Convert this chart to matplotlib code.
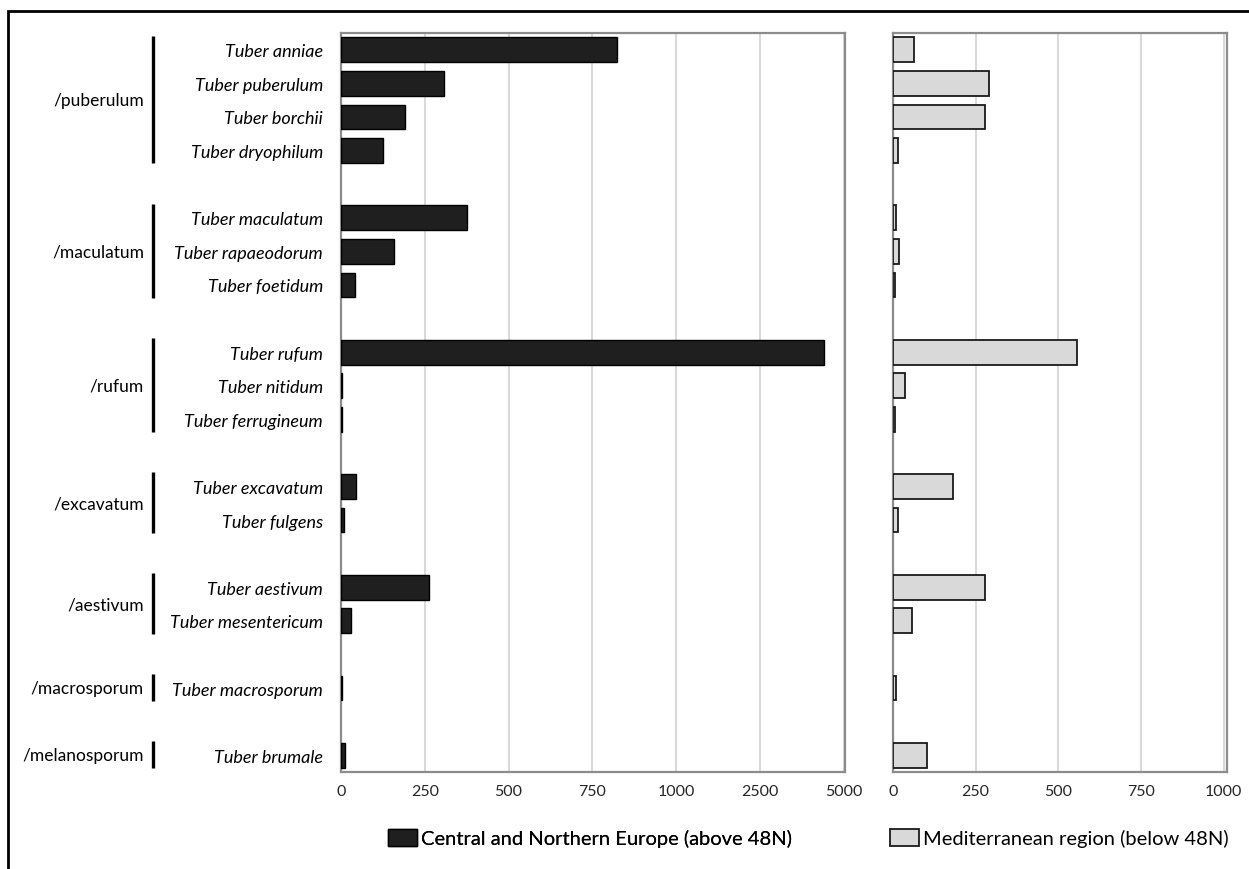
import numpy as np
import matplotlib
matplotlib.use("Agg")
import matplotlib.pyplot as plt
from matplotlib.patches import Rectangle
from matplotlib.transforms import blended_transform_factory

plt.rcParams['font.family'] = ['Lato', 'DejaVu Sans']

# --- data ---
groups = ["/puberulum", "/maculatum", "/rufum", "/excavatum",
          "/aestivum", "/macrosporum", "/melanosporum"]
species = [
    ["Tuber anniae", "Tuber puberulum", "Tuber borchii", "Tuber dryophilum"],
    ["Tuber maculatum", "Tuber rapaeodorum", "Tuber foetidum"],
    ["Tuber rufum", "Tuber nitidum", "Tuber ferrugineum"],
    ["Tuber excavatum", "Tuber fulgens"],
    ["Tuber aestivum", "Tuber mesentericum"],
    ["Tuber macrosporum"],
    ["Tuber brumale"],
]
north = [823, 306, 191, 124,
         377, 158, 43,
         4400, 3, 3,
         45, 10,
         264, 31,
         4,
         12]
south = [64, 291, 277, 14,
         10, 17, 6,
         555, 35, 5,
         181, 14,
         277, 56,
         9,
         104]
north_ticks = [0, 250, 500, 750, 1000, 2500, 5000]
south_ticks = [0, 250, 500, 750, 1000]
label_north = "Central and Northern Europe (above 48N)"
label_south = "Mediterranean region (below 48N)"

# y positions: one empty slot between groups
ypos, spans = [], []
slot = 0
for sp in species:
    start = slot
    for _ in sp:
        ypos.append(slot)
        slot += 1
    spans.append((start, slot - 1))
    slot += 1
n_slots = slot - 1
names = [s for sp in species for s in sp]


# broken axis: 0-1000 linear, then 2500 and 5000 at one tick step each
def fwd(v):
    v = np.asarray(v, dtype=float)
    return np.where(v <= 1000, v,
                    np.where(v <= 2500, 1000 + (v - 1000) / 6.0,
                             1250 + (v - 2500) / 10.0))


def inv(u):
    u = np.asarray(u, dtype=float)
    return np.where(u <= 1000, u,
                    np.where(u <= 1250, 1000 + (u - 1000) * 6.0,
                             2500 + (u - 1250) * 10.0))


W, H = 1249, 870
fig = plt.figure(figsize=(W / 100, H / 100), dpi=100)
top, bot = 34, 773
ax1 = fig.add_axes([341 / W, 1 - bot / H, (845 - 341) / W, (bot - top) / H])
ax2 = fig.add_axes([893 / W, 1 - bot / H, (1227 - 893) / W, (bot - top) / H])

dark = '#1f1f1f'
light = '#d9d9d9'
b1 = ax1.barh(ypos, north, height=0.74, color=dark, edgecolor='black', linewidth=1.0, zorder=3)
b2 = ax2.barh(ypos, south, height=0.74, color=light, edgecolor='#1a1a1a', linewidth=1.3, zorder=3)

ax1.set_xscale('function', functions=(fwd, inv))
ax1.set_xlim(0, 5040)
ax1.set_xticks(north_ticks)
ax1.set_xticklabels([str(t) for t in north_ticks])
ax2.set_xlim(0, 1010)
ax2.set_xticks(south_ticks)
ax2.set_xticklabels([str(t) for t in south_ticks])

for ax in (ax1, ax2):
    ax.set_ylim(n_slots - 0.5, -0.5)
    ax.grid(axis='x', color='#d9d9d9', linewidth=1.5, zorder=0)
    ax.grid(axis='y', visible=False)
    ax.set_axisbelow(True)
    for s in ax.spines.values():
        s.set_color('#8c8c8c')
        s.set_linewidth(1.6)
    ax.tick_params(axis='x', length=0, pad=9, labelsize=11.5, labelcolor='#262626')

ax1.set_yticks(ypos)
ax1.set_yticklabels(names, fontstyle='italic', fontsize=13)
ax1.tick_params(axis='y', length=0, pad=13)
ax2.set_yticks([])

# group brackets and labels
trans = blended_transform_factory(fig.transFigure, ax1.transData)
for g, (a, b) in zip(groups, spans):
    ax1.plot([153 / W, 153 / W], [a - 0.42, b + 0.38], color='black',
             linewidth=2.4, transform=trans, clip_on=False, solid_capstyle='butt')
    ax1.text(144 / W, (a + b) / 2, g, transform=trans, ha='right', va='center',
             fontsize=12.5, color='black')

# legends
leg1 = fig.legend([b1], [label_north], loc='center left',
                  bbox_to_anchor=(370 / W, 1 - 839 / H), frameon=False,
                  fontsize=14.5, handlelength=1.45, handleheight=0.9, handletextpad=0.2)
fig.add_artist(leg1)
fig.legend([b2], [label_south], loc='center left',
           bbox_to_anchor=(872 / W, 1 - 839 / H), frameon=False,
           fontsize=14.5, handlelength=1.45, handleheight=0.9, handletextpad=0.2)

# outer frame
fig.patches.append(Rectangle((8 / W, -0.1), 1.2, (H - 12) / H + 0.1,
                             transform=fig.transFigure, fill=False,
                             edgecolor='black', linewidth=2.0))

fig.savefig('out.png', dpi=100)
